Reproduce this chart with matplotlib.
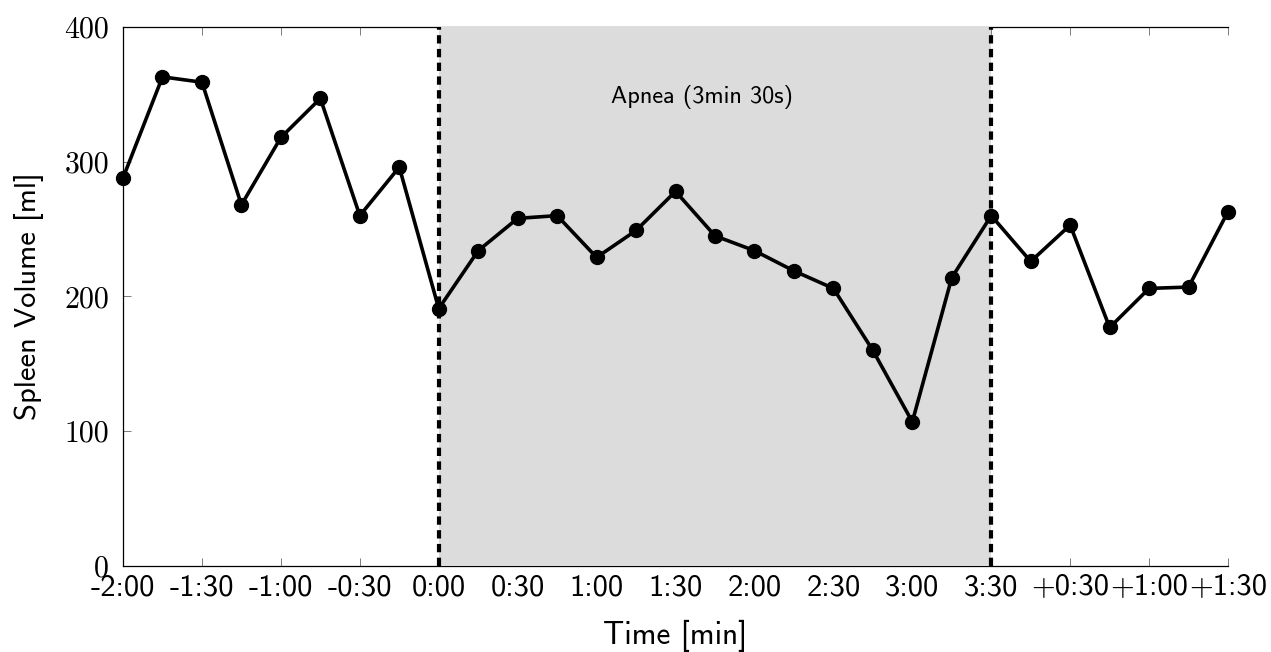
import numpy as np
import matplotlib
matplotlib.use('Agg')
import matplotlib.pyplot as plt

# measurements every 15 s, from 2 min before apnea to 1:30 after
times = np.arange(-120, 301, 15)
volume = [288, 363, 359, 268, 318, 347, 260, 296, 191, 234, 258, 260, 229,
          249, 278, 245, 234, 219, 206, 160, 107, 214, 260, 226, 253, 177,
          206, 207, 263]

tick_pos = np.arange(-120, 301, 30)
tick_labels = ['-2:00', '-1:30', '-1:00', '-0:30', '0:00', '0:30', '1:00',
               '1:30', '2:00', '2:30', '3:00', '3:30', '+0:30', '+1:00',
               '+1:30']
ytick_pos = [0, 100, 200, 300, 400]

apnea_start = 0
apnea_end = 210

plt.rcParams['font.family'] = 'cmss10'
plt.rcParams['axes.unicode_minus'] = False

fig = plt.figure(figsize=(12.71, 6.52), dpi=100)
ax = fig.add_axes([0.0968, 0.1319, 0.8694, 0.8267])

ax.axvspan(apnea_start, apnea_end, color='#dcdcdc', lw=0, zorder=3)
ax.axvline(apnea_start, color='black', lw=3, ls=(0, (2, 1.3)), zorder=4)
ax.axvline(apnea_end, color='black', lw=3, ls=(0, (2, 1.3)), zorder=4)

ax.plot(times, volume, color='black', lw=2.6, marker='o', markersize=10,
        zorder=5, clip_on=False)

ax.text(100, 348, 'Apnea (3min 30s)', fontsize=17.5, ha='center',
        va='center', zorder=6)

ax.set_xlim(-120, 300)
ax.set_ylim(0, 400)
ax.set_xticks(tick_pos)
ax.set_xticklabels(tick_labels, fontsize=22)
ax.set_yticks(ytick_pos)
ax.set_yticklabels([str(v) for v in ytick_pos], fontsize=21.5,
                   family='cmr10')

ax.tick_params(axis='x', direction='in', top=True, length=6, width=0.6,
               color='#666666', pad=6)
ax.tick_params(axis='y', direction='in', length=6, width=0.6,
               color='#666666', pad=10)
ax.spines['right'].set_visible(False)
for s in ['left', 'top', 'bottom']:
    ax.spines[s].set_linewidth(0.9)

ax.set_xlabel('Time [min]', fontsize=22.5, labelpad=13)
ax.set_ylabel('Spleen Volume [ml]', fontsize=22, labelpad=15)

fig.savefig('out.png', dpi=100)
